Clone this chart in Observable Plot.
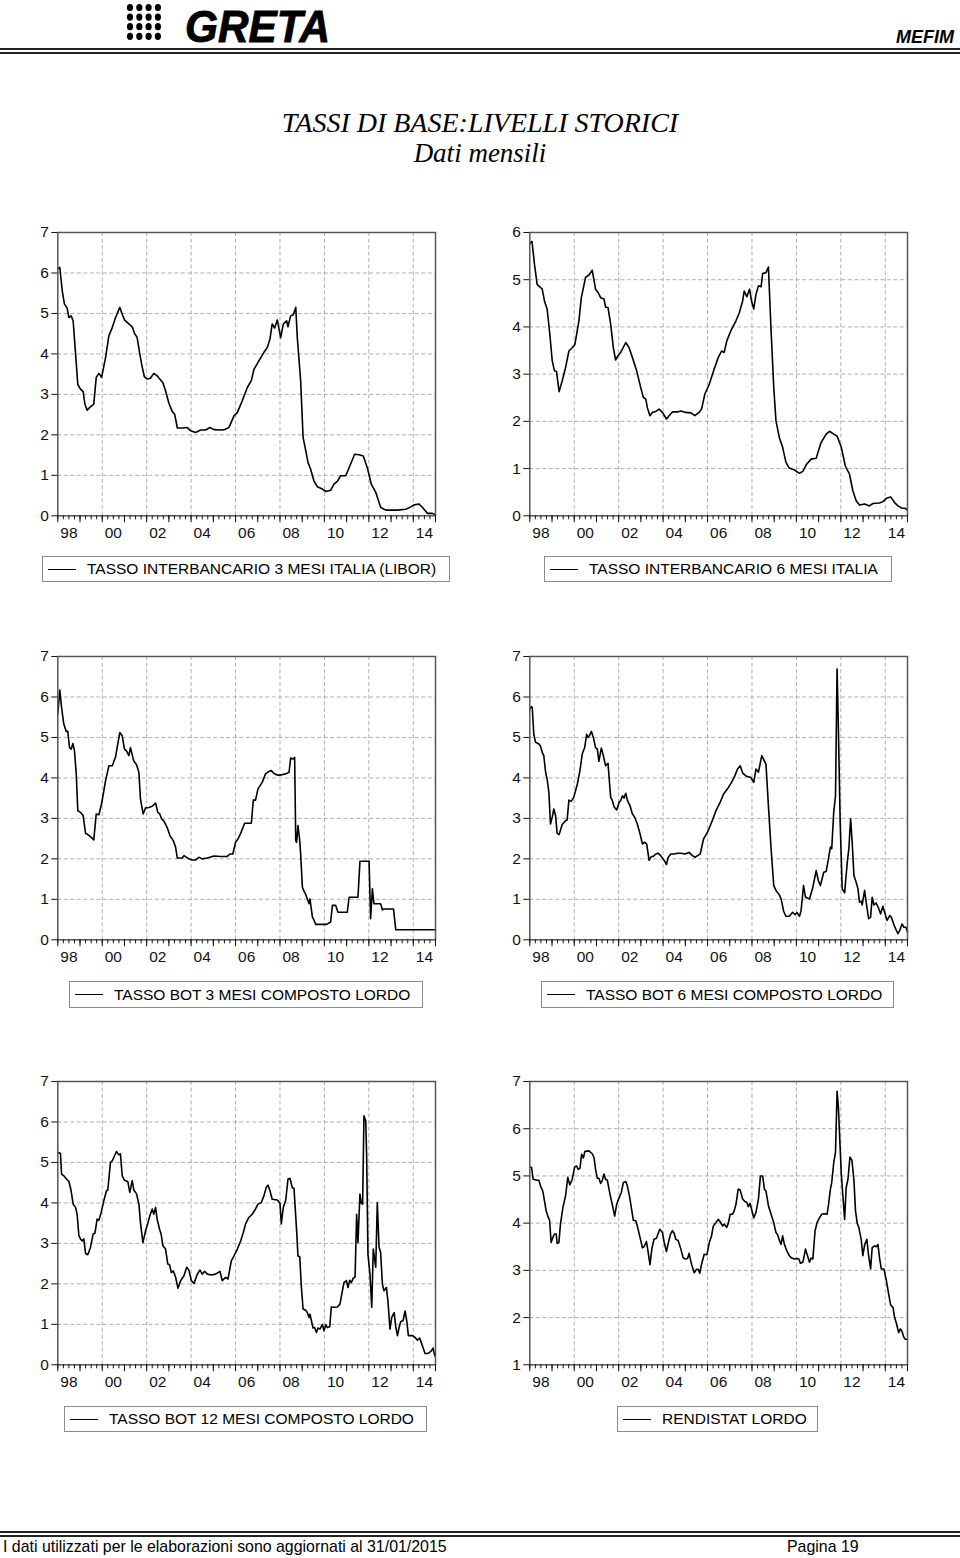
<!DOCTYPE html>
<html>
<head>
<meta charset="utf-8">
<script src="https://cdn.jsdelivr.net/npm/d3@7"></script>
<script src="https://cdn.jsdelivr.net/npm/@observablehq/plot@0.6"></script>
<style>
  html, body { margin: 0; padding: 0; background: #fff; }
  #page { position: relative; width: 960px; height: 1558px; overflow: hidden; background: #fff;
          font-family: "Liberation Sans", Arial, sans-serif; color: #000; }
  .abs { position: absolute; }
  .hline { position: absolute; left: 0; width: 960px; background: #222; }
  .legend { position: absolute; border: 1.5px solid #8c8c8c; box-sizing: border-box; display: flex;
            align-items: center; font-size: 15.5px; white-space: nowrap; background: #fff; }
  .legend .sw { display: inline-block; width: 28px; border-top: 1.6px solid #000; margin-left: 5px; margin-right: 11px; }
  .panel { position: absolute; }
  .foot { position: absolute; top: 1537px; font-size: 17px; line-height: 1.15; transform: scaleX(0.935); transform-origin: left top; white-space: nowrap; }
  .title { position: absolute; left: 0; width: 960px; text-align: center; font-family: 'Liberation Serif','Times New Roman',serif; font-style: italic; line-height: 1.15; }
</style>
</head>
<body>
<div id="page">
  <svg class="abs" style="left:124px; top:2px" width="42" height="42" id="dots"></svg>
  <svg class="abs" style="left:180px; top:0px" width="170" height="50">
    <text x="5" y="41.5" font-family="'Liberation Sans', Arial, sans-serif" font-size="45" font-weight="bold" font-style="italic"
          textLength="145" lengthAdjust="spacingAndGlyphs" stroke="#000" stroke-width="0.9" fill="#000">GRETA</text>
  </svg>
  <div class="abs" style="right:6px; top:27px; font-size:18px; font-weight:bold; font-style:italic;">MEFIM</div>
  <div class="hline" style="top:48px; height:2px;"></div>
  <div class="hline" style="top:52px; height:1.5px;"></div>

  <div class="title" style="top:107px; font-size:28px;">TASSI DI BASE:LIVELLI STORICI</div>
  <div class="title" style="top:138px; font-size:27px;">Dati mensili</div>

  <div class="hline" style="top:1531px; height:2px;"></div>
  <div class="hline" style="top:1535px; height:1.5px;"></div>
  <div class="foot" style="left:3px;">I dati utilizzati per le elaborazioni sono aggiornati al 31/01/2015</div>
  <div class="foot" style="left:787px;">Pagina 19</div>
</div>
<script>
// ---- DATA (time = years elapsed since January 1998, value in %) ----
const START_YEAR = 1998;
const END_YEAR = 2015;
const yearLabels = ["98","00","02","04","06","08","10","12","14"];
const labelYears = [1998,2000,2002,2004,2006,2008,2010,2012,2014];
const gridYears = [2000,2002,2004,2006,2008,2010,2012,2014];

const libor3m = [[0,6.10],[0.09,6.14],[0.2,5.56],[0.3,5.23],[0.42,5.13],[0.5,4.90],[0.6,4.94],[0.69,4.82],[0.8,4.00],[0.9,3.25],[1.02,3.13],[1.14,3.07],[1.22,2.76],[1.32,2.61],[1.44,2.68],[1.62,2.76],[1.73,3.42],[1.85,3.52],[1.97,3.42],[2.15,3.91],[2.3,4.45],[2.45,4.65],[2.6,4.90],[2.79,5.15],[2.9,4.98],[3.0,4.84],[3.2,4.74],[3.35,4.67],[3.45,4.51],[3.57,4.41],[3.69,4.00],[3.8,3.67],[3.9,3.43],[4.02,3.38],[4.17,3.40],[4.32,3.52],[4.47,3.46],[4.59,3.38],[4.73,3.29],[4.85,3.09],[5.0,2.78],[5.15,2.58],[5.26,2.51],[5.38,2.17],[5.6,2.17],[5.83,2.18],[5.98,2.10],[6.2,2.06],[6.43,2.12],[6.65,2.12],[6.85,2.18],[7.03,2.13],[7.33,2.12],[7.51,2.13],[7.7,2.18],[7.93,2.47],[8.08,2.55],[8.3,2.84],[8.53,3.17],[8.71,3.34],[8.83,3.62],[9.05,3.83],[9.28,4.04],[9.43,4.16],[9.55,4.37],[9.65,4.74],[9.76,4.64],[9.88,4.84],[10.03,4.40],[10.15,4.74],[10.3,4.82],[10.36,4.67],[10.48,4.94],[10.6,4.97],[10.71,5.15],[10.78,4.40],[10.93,3.34],[11.04,1.94],[11.16,1.61],[11.26,1.32],[11.38,1.15],[11.53,0.86],[11.68,0.72],[11.91,0.66],[12.06,0.60],[12.28,0.63],[12.43,0.78],[12.58,0.85],[12.73,0.99],[12.96,0.99],[13.18,1.28],[13.36,1.52],[13.56,1.51],[13.75,1.48],[13.93,1.19],[14.11,0.78],[14.31,0.58],[14.53,0.21],[14.76,0.14],[14.98,0.14],[15.29,0.14],[15.66,0.16],[15.89,0.22],[16.04,0.27],[16.26,0.29],[16.41,0.21],[16.64,0.06],[16.86,0.06],[16.98,0.03]];

const libor6m = [[0,5.77],[0.1,5.81],[0.21,5.33],[0.33,4.90],[0.45,4.85],[0.56,4.80],[0.66,4.55],[0.78,4.38],[0.9,3.85],[1.01,3.28],[1.11,3.07],[1.2,3.06],[1.32,2.63],[1.46,2.86],[1.61,3.14],[1.76,3.49],[1.91,3.56],[2.03,3.63],[2.21,4.13],[2.32,4.62],[2.51,5.05],[2.66,5.10],[2.81,5.20],[2.96,4.80],[3.07,4.73],[3.19,4.62],[3.34,4.59],[3.41,4.42],[3.52,4.41],[3.64,4.06],[3.76,3.56],[3.86,3.30],[3.97,3.39],[4.09,3.46],[4.32,3.67],[4.47,3.56],[4.62,3.35],[4.81,3.07],[4.99,2.72],[5.11,2.51],[5.22,2.47],[5.29,2.29],[5.41,2.12],[5.52,2.19],[5.67,2.21],[5.82,2.26],[5.97,2.19],[6.15,2.05],[6.27,2.12],[6.42,2.20],[6.65,2.20],[6.8,2.22],[7.02,2.19],[7.25,2.18],[7.43,2.12],[7.62,2.19],[7.73,2.26],[7.88,2.58],[8.08,2.79],[8.3,3.11],[8.48,3.35],[8.63,3.49],[8.75,3.46],[8.87,3.71],[9.05,3.92],[9.28,4.13],[9.43,4.30],[9.58,4.55],[9.65,4.76],[9.77,4.64],[9.89,4.80],[9.98,4.55],[10.08,4.38],[10.18,4.69],[10.29,4.87],[10.41,4.85],[10.48,5.13],[10.63,5.15],[10.74,5.27],[10.86,3.92],[10.98,2.72],[11.08,2.01],[11.23,1.66],[11.38,1.45],[11.53,1.13],[11.68,1.01],[11.91,0.97],[12.14,0.90],[12.29,0.94],[12.44,1.08],[12.66,1.20],[12.89,1.22],[13.11,1.55],[13.34,1.73],[13.49,1.79],[13.68,1.73],[13.83,1.69],[14.02,1.45],[14.2,1.06],[14.39,0.88],[14.54,0.53],[14.69,0.32],[14.84,0.23],[15.07,0.25],[15.29,0.21],[15.44,0.26],[15.74,0.27],[15.89,0.30],[16.05,0.37],[16.24,0.40],[16.42,0.28],[16.57,0.21],[16.75,0.16],[16.9,0.16],[16.99,0.12]];

const bot3m = [[0,5.58],[0.09,6.17],[0.17,5.74],[0.27,5.33],[0.38,5.15],[0.45,5.15],[0.53,4.74],[0.6,4.71],[0.68,4.85],[0.75,4.67],[0.83,4.10],[0.9,3.19],[1.02,3.15],[1.14,3.07],[1.25,2.63],[1.35,2.60],[1.47,2.55],[1.62,2.47],[1.73,3.11],[1.85,3.09],[1.97,3.36],[2.15,3.93],[2.3,4.30],[2.45,4.30],[2.6,4.52],[2.7,4.84],[2.79,5.12],[2.9,5.04],[3.0,4.71],[3.09,4.67],[3.2,4.55],[3.27,4.75],[3.35,4.57],[3.42,4.42],[3.54,4.33],[3.65,4.14],[3.72,3.48],[3.84,3.11],[3.95,3.26],[4.1,3.27],[4.25,3.30],[4.4,3.38],[4.5,3.15],[4.59,3.11],[4.67,2.99],[4.77,2.94],[4.92,2.78],[5.05,2.57],[5.2,2.45],[5.3,2.29],[5.38,2.02],[5.6,2.02],[5.68,2.08],[5.9,2.00],[6.05,1.97],[6.2,1.97],[6.35,2.04],[6.5,2.00],[6.73,2.02],[7.03,2.07],[7.33,2.06],[7.63,2.06],[7.75,2.12],[7.88,2.12],[8.0,2.41],[8.11,2.49],[8.23,2.63],[8.41,2.88],[8.6,2.88],[8.71,2.88],[8.8,3.45],[8.9,3.45],[9.01,3.73],[9.2,3.89],[9.35,4.10],[9.5,4.16],[9.61,4.18],[9.73,4.11],[9.88,4.07],[10.03,4.07],[10.26,4.10],[10.41,4.14],[10.48,4.49],[10.59,4.47],[10.66,4.51],[10.71,2.45],[10.75,2.41],[10.81,2.82],[10.89,2.45],[10.93,2.12],[11.01,1.30],[11.08,1.20],[11.16,1.12],[11.23,1.01],[11.31,0.89],[11.35,1.01],[11.46,0.56],[11.53,0.49],[11.61,0.38],[11.91,0.38],[12.1,0.38],[12.28,0.44],[12.36,0.85],[12.51,0.85],[12.61,0.68],[13.03,0.68],[13.11,1.05],[13.51,1.05],[13.6,1.94],[14.01,1.94],[14.08,0.52],[14.16,1.26],[14.23,0.89],[14.53,0.89],[14.61,0.74],[14.68,0.76],[15.11,0.76],[15.21,0.25],[17.0,0.25]];

const bot6m = [[0,5.70],[0.06,5.76],[0.11,5.74],[0.18,5.08],[0.26,4.88],[0.41,4.84],[0.48,4.79],[0.56,4.63],[0.63,4.55],[0.71,4.14],[0.78,3.97],[0.86,3.64],[0.93,2.86],[1.01,3.03],[1.08,3.23],[1.16,3.07],[1.23,2.63],[1.32,2.60],[1.46,2.85],[1.61,2.94],[1.68,2.96],[1.76,3.45],[1.86,3.42],[1.98,3.52],[2.14,3.85],[2.26,4.19],[2.36,4.59],[2.47,4.75],[2.56,5.08],[2.62,5.00],[2.68,5.04],[2.77,5.15],[2.86,5.00],[2.96,4.75],[3.04,4.71],[3.11,4.41],[3.22,4.74],[3.31,4.55],[3.41,4.30],[3.52,4.36],[3.64,3.52],[3.71,3.45],[3.79,3.29],[3.91,3.21],[4.02,3.40],[4.09,3.44],[4.17,3.56],[4.24,3.50],[4.32,3.62],[4.39,3.45],[4.51,3.31],[4.62,3.11],[4.72,3.03],[4.84,2.86],[4.96,2.62],[5.07,2.37],[5.17,2.41],[5.26,2.37],[5.37,1.96],[5.47,2.06],[5.56,2.06],[5.67,2.12],[5.77,2.14],[5.89,2.08],[6.05,1.96],[6.15,1.86],[6.23,2.04],[6.35,2.12],[6.5,2.12],[6.65,2.14],[6.8,2.14],[6.98,2.12],[7.17,2.16],[7.32,2.08],[7.44,2.04],[7.55,2.08],[7.67,2.12],[7.82,2.49],[8.0,2.66],[8.18,2.90],[8.38,3.19],[8.57,3.40],[8.72,3.60],[8.9,3.73],[9.08,3.89],[9.23,4.05],[9.35,4.22],[9.47,4.30],[9.58,4.12],[9.73,4.05],[9.95,4.01],[10.08,3.89],[10.18,4.22],[10.29,4.14],[10.44,4.55],[10.63,4.34],[10.74,3.31],[10.86,2.25],[10.98,1.34],[11.08,1.22],[11.23,1.11],[11.31,1.01],[11.43,0.70],[11.53,0.58],[11.68,0.58],[11.83,0.68],[11.94,0.62],[12.03,0.67],[12.14,0.58],[12.21,0.72],[12.32,1.34],[12.41,1.05],[12.59,1.01],[12.74,1.30],[12.89,1.71],[12.99,1.46],[13.08,1.34],[13.23,1.67],[13.34,1.69],[13.44,2.00],[13.53,2.29],[13.59,2.25],[13.68,3.15],[13.76,3.56],[13.83,6.69],[13.89,5.21],[13.97,2.90],[14.06,1.26],[14.17,1.16],[14.29,1.92],[14.36,2.25],[14.44,2.99],[14.51,2.41],[14.59,1.59],[14.69,1.42],[14.77,1.26],[14.84,0.93],[14.92,0.95],[14.96,0.86],[15.07,1.22],[15.14,0.93],[15.25,0.52],[15.34,0.56],[15.41,1.05],[15.49,0.86],[15.59,0.91],[15.7,0.78],[15.79,0.64],[15.89,0.83],[15.97,0.68],[16.08,0.48],[16.2,0.60],[16.27,0.56],[16.39,0.37],[16.5,0.23],[16.57,0.15],[16.65,0.23],[16.75,0.39],[16.84,0.31],[16.93,0.31],[17.0,0.19]];

const bot12m = [[0,5.25],[0.12,5.22],[0.17,4.71],[0.27,4.67],[0.39,4.59],[0.5,4.53],[0.6,4.30],[0.69,3.97],[0.8,3.89],[0.87,3.72],[0.95,3.19],[1.02,3.11],[1.1,3.06],[1.17,3.11],[1.25,2.75],[1.35,2.72],[1.47,2.90],[1.59,3.23],[1.67,3.25],[1.77,3.60],[1.85,3.57],[1.95,3.76],[2.07,4.05],[2.19,4.30],[2.25,4.32],[2.37,5.00],[2.45,5.04],[2.55,5.16],[2.64,5.27],[2.75,5.19],[2.82,5.21],[2.9,4.67],[3.0,4.56],[3.15,4.53],[3.24,4.26],[3.35,4.55],[3.42,4.32],[3.54,4.23],[3.65,3.97],[3.72,3.52],[3.83,3.02],[3.95,3.31],[4.05,3.49],[4.14,3.68],[4.25,3.85],[4.32,3.72],[4.4,3.89],[4.47,3.60],[4.58,3.35],[4.65,3.23],[4.73,2.94],[4.85,2.86],[4.95,2.49],[5.03,2.47],[5.11,2.28],[5.2,2.32],[5.3,2.17],[5.41,1.89],[5.53,2.08],[5.68,2.20],[5.8,2.41],[5.9,2.34],[6.01,2.08],[6.13,2.01],[6.28,2.24],[6.4,2.34],[6.5,2.24],[6.61,2.31],[6.73,2.24],[6.91,2.22],[7.1,2.24],[7.3,2.31],[7.4,2.08],[7.55,2.16],[7.66,2.12],[7.81,2.57],[7.93,2.69],[8.08,2.86],[8.23,3.06],[8.35,3.27],[8.45,3.48],[8.6,3.64],[8.75,3.72],[8.9,3.85],[9.01,3.97],[9.16,4.01],[9.28,4.18],[9.38,4.38],[9.46,4.44],[9.55,4.30],[9.65,4.09],[9.88,4.07],[10.0,3.99],[10.06,3.48],[10.15,3.89],[10.26,4.07],[10.36,4.59],[10.45,4.61],[10.56,4.37],[10.63,4.37],[10.75,3.31],[10.81,2.69],[10.89,2.67],[10.96,1.95],[11.04,1.38],[11.16,1.35],[11.23,1.29],[11.31,1.17],[11.35,1.25],[11.41,1.10],[11.49,0.91],[11.56,0.92],[11.64,0.80],[11.71,0.91],[11.8,0.88],[11.91,1.00],[11.98,0.84],[12.06,0.99],[12.13,0.92],[12.24,0.94],[12.31,1.43],[12.43,1.42],[12.58,1.43],[12.7,1.50],[12.81,1.83],[12.88,2.03],[12.99,2.08],[13.06,1.91],[13.14,2.09],[13.21,2.03],[13.3,2.14],[13.38,2.17],[13.45,3.72],[13.51,3.02],[13.6,4.22],[13.66,3.99],[13.72,3.97],[13.78,6.15],[13.86,6.03],[13.9,5.21],[13.96,2.73],[14.05,2.24],[14.13,1.42],[14.2,2.86],[14.31,2.41],[14.38,4.01],[14.46,2.90],[14.53,2.78],[14.61,1.99],[14.68,1.83],[14.79,1.91],[14.86,1.58],[14.95,0.88],[15.03,1.17],[15.14,1.29],[15.21,0.94],[15.29,0.72],[15.36,0.92],[15.44,1.07],[15.54,1.09],[15.63,1.33],[15.71,1.07],[15.78,0.72],[15.96,0.72],[16.07,0.68],[16.19,0.61],[16.29,0.66],[16.41,0.47],[16.53,0.28],[16.67,0.28],[16.79,0.33],[16.89,0.41],[16.97,0.22]];

const rendistat = [[0,5.19],[0.08,5.18],[0.15,4.93],[0.33,4.91],[0.41,4.91],[0.48,4.79],[0.59,4.67],[0.66,4.47],[0.74,4.25],[0.81,4.15],[0.89,4.06],[0.96,3.59],[1.04,3.70],[1.11,3.77],[1.19,3.77],[1.23,3.57],[1.31,3.59],[1.38,3.98],[1.49,4.33],[1.61,4.58],[1.71,4.97],[1.8,4.81],[1.91,4.93],[2.02,5.19],[2.11,5.21],[2.18,5.14],[2.26,5.16],[2.33,5.46],[2.41,5.38],[2.48,5.52],[2.66,5.53],[2.81,5.47],[2.89,5.39],[2.96,5.14],[3.04,4.95],[3.11,4.95],[3.19,4.84],[3.26,4.90],[3.34,5.04],[3.41,4.93],[3.49,4.91],[3.61,4.61],[3.71,4.40],[3.82,4.15],[3.91,4.40],[4.02,4.54],[4.12,4.65],[4.21,4.86],[4.32,4.88],[4.39,4.79],[4.5,4.54],[4.57,4.33],[4.66,4.06],[4.77,4.05],[4.84,3.94],[4.96,3.70],[5.07,3.48],[5.14,3.50],[5.25,3.61],[5.32,3.41],[5.41,3.12],[5.49,3.45],[5.59,3.66],[5.7,3.68],[5.77,3.77],[5.85,3.87],[5.97,3.80],[6.05,3.59],[6.15,3.40],[6.24,3.59],[6.32,3.75],[6.42,3.84],[6.5,3.78],[6.57,3.66],[6.68,3.63],[6.8,3.45],[6.9,3.27],[6.99,3.24],[7.1,3.25],[7.17,3.36],[7.28,3.13],[7.4,2.95],[7.5,3.02],[7.58,3.02],[7.65,2.94],[7.73,3.13],[7.85,3.34],[7.97,3.33],[8.08,3.59],[8.18,3.73],[8.26,3.94],[8.38,4.01],[8.48,4.08],[8.57,4.03],[8.68,3.94],[8.75,3.98],[8.86,3.91],[8.93,3.99],[9.02,4.19],[9.13,4.19],[9.2,4.26],[9.28,4.40],[9.38,4.72],[9.47,4.70],[9.58,4.51],[9.68,4.46],[9.77,4.44],[9.83,4.35],[9.91,4.42],[9.98,4.30],[10.08,4.11],[10.18,4.23],[10.29,4.51],[10.38,5.00],[10.48,5.00],[10.56,4.72],[10.63,4.68],[10.74,4.37],[10.86,4.19],[10.98,4.01],[11.08,3.80],[11.16,3.75],[11.23,3.64],[11.31,3.55],[11.38,3.73],[11.46,3.55],[11.58,3.40],[11.68,3.31],[11.79,3.26],[11.91,3.24],[12.03,3.25],[12.11,3.24],[12.18,3.15],[12.29,3.17],[12.41,3.45],[12.48,3.34],[12.59,3.17],[12.66,3.26],[12.74,3.24],[12.84,3.84],[12.93,4.01],[13.04,4.11],[13.14,4.19],[13.26,4.20],[13.38,4.19],[13.44,4.37],[13.53,4.72],[13.59,4.86],[13.68,5.28],[13.76,5.50],[13.83,6.79],[13.89,6.45],[14.02,5.04],[14.17,4.08],[14.24,4.75],[14.32,4.93],[14.41,5.40],[14.5,5.33],[14.59,4.90],[14.66,4.26],[14.74,3.99],[14.81,3.91],[14.92,3.64],[14.99,3.31],[15.07,3.54],[15.17,3.66],[15.25,3.31],[15.34,3.03],[15.41,3.48],[15.52,3.52],[15.59,3.50],[15.67,3.55],[15.74,3.27],[15.82,3.03],[15.94,3.03],[16.05,2.78],[16.15,2.50],[16.24,2.27],[16.35,2.21],[16.42,2.00],[16.5,1.88],[16.6,1.68],[16.68,1.76],[16.75,1.71],[16.84,1.58],[16.9,1.54],[17.0,1.54]];

const seriesNames = [
  "TASSO INTERBANCARIO 3 MESI ITALIA (LIBOR)",
  "TASSO INTERBANCARIO 6 MESI ITALIA",
  "TASSO BOT 3 MESI COMPOSTO LORDO",
  "TASSO BOT 6 MESI COMPOSTO LORDO",
  "TASSO BOT 12 MESI COMPOSTO LORDO",
  "RENDISTAT LORDO"
];
const seriesData = [libor3m, libor6m, bot3m, bot6m, bot12m, rendistat];
const yDomains = [[0,7],[0,6],[0,7],[0,7],[0,7],[1,7]];

// ---- layout ----
const colLeft = [0, 472];
const rowTop = [219.7, 643.7, 1068.7];
const legendBoxes = [
  {left: 42, top: 556, width: 408, height: 26},
  {left: 544, top: 556, width: 348, height: 26},
  {left: 69, top: 981, width: 354, height: 27},
  {left: 541, top: 981, width: 353, height: 27},
  {left: 64, top: 1406, width: 363, height: 26},
  {left: 617, top: 1406, width: 201, height: 26}
];

const quarterTicks = d3.range(START_YEAR * 4, END_YEAR * 4 + 1).map(q => q / 4);
const yearTicks = d3.range(START_YEAR, END_YEAR + 1);
const labelPos = labelYears.map(y => y + 0.5);

const page = document.getElementById("page");

// logo dots
const dots = d3.select("#dots");
for (let r = 0; r < 4; r++) for (let c = 0; c < 4; c++)
  dots.append("ellipse").attr("cx", 6 + c * 9.3).attr("cy", 5.5 + r * 9.6).attr("rx", 3.1).attr("ry", 3.6).attr("fill", "#000");

function makePanel(data, yDomain) {
  const yTicks = d3.range(yDomain[0], yDomain[1] + 1);
  const innerY = yTicks.filter(v => v > yDomain[0] && v < yDomain[1]);
  return Plot.plot({
    width: 480,
    height: 327.3,
    marginLeft: 57.3,
    marginRight: 45,
    marginTop: 12,
    marginBottom: 32,
    style: {fontFamily: "'Liberation Sans', Arial, sans-serif", fontSize: "15.5px", color: "#111", background: "transparent", overflow: "visible"},
    x: {domain: [START_YEAR, END_YEAR]},
    y: {domain: yDomain},
    marks: [
      Plot.gridX(gridYears, {stroke: "#9a9a9a", strokeOpacity: 1, strokeWidth: 0.8, strokeDasharray: "4,2.5"}),
      Plot.gridY(innerY, {stroke: "#9a9a9a", strokeOpacity: 1, strokeWidth: 0.8, strokeDasharray: "4,2.5"}),
      Plot.line(data, {x: d => START_YEAR + d[0], y: d => d[1], stroke: "#000", strokeWidth: 1.6}),
      Plot.frame({stroke: "#555", strokeWidth: 1.5}),
      Plot.axisY(yTicks, {tickSize: 6, tickPadding: 3, label: null, tickFormat: d => String(d)}),
      Plot.axisX(quarterTicks, {tickSize: 4, text: null, label: null}),
      Plot.axisX(yearTicks, {tickSize: 7, text: null, label: null}),
      Plot.axisX(labelPos, {tickSize: 0, tickPadding: 11, label: null,
        tickFormat: d => yearLabels[labelYears.indexOf(Math.floor(d))]})
    ]
  });
}

seriesData.forEach((data, i) => {
  const div = document.createElement("div");
  div.className = "panel";
  div.style.left = colLeft[i % 2] + "px";
  div.style.top = rowTop[Math.floor(i / 2)] + "px";
  div.appendChild(makePanel(data, yDomains[i]));
  page.appendChild(div);

  const b = legendBoxes[i];
  const lg = document.createElement("div");
  lg.className = "legend";
  lg.style.left = b.left + "px";
  lg.style.top = b.top + "px";
  lg.style.width = b.width + "px";
  lg.style.height = b.height + "px";
  lg.innerHTML = '<span class="sw"></span><span></span>';
  lg.lastChild.textContent = seriesNames[i];
  page.appendChild(lg);
});
</script>
</body>
</html>
